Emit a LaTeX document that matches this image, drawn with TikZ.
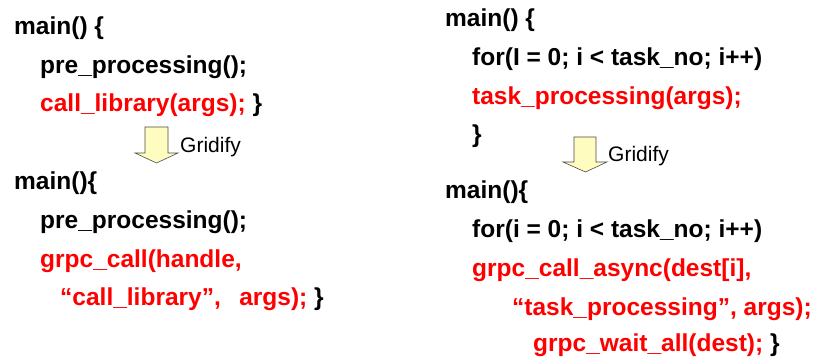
\documentclass[tikz,border=0pt]{standalone}
\usepackage{fontspec}
\setmainfont{Liberation Sans}
\begin{document}
\begin{tikzpicture}[x=1pt,y=1pt,
  code/.style={anchor=base west,inner sep=0pt,font=\fontsize{24.5}{29}\selectfont\bfseries},
  hot/.style={code,text=red},
  lbl/.style={anchor=base west,inner sep=0pt,font=\fontsize{21}{25}\selectfont},
  gridarrow/.style={draw=black!70,line width=0.6pt,fill=yellow!25,line join=miter}]
\useasboundingbox (0,0) rectangle (814,359);

% original sequential program
\node[code] (l1) at (14,324) {main() \{};
\node[code] (l2) at (40,285) {pre\_processing();};
\node[code] (l3) at (40,247) {\textcolor{red}{call\_library(args);} \}};
% gridified version
\node[code] (l4) at (14,169) {main()\{};
\node[code] (l5) at (40,130) {pre\_processing();};
\node[hot]  (l6) at (40,91)  {grpc\_call(handle,};
\node[code] (l7) at (60,53)  {\textcolor{red}{“call\_library”,\hspace{0.75em}args);} \}};

% task-parallel loop
\node[code] (r1) at (445,332) {main() \{};
\node[code] (r2) at (472,293) {for(I = 0; i < task\_no; i++)};
\node[hot]  (r3) at (472,254) {task\_processing(args);};
\node[code] (r4) at (472,216) {\}};
% asynchronous gridified version
\node[code] (r5) at (445,160) {main()\{};
\node[code] (r6) at (472,121) {for(i = 0; i < task\_no; i++)};
\node[hot]  (r7) at (472,82)  {grpc\_call\_async(dest[i],};
\node[hot]  (r8) at (512,44)  {“task\_processing”, args);};
\node[code] (r9) at (533,8)   {\textcolor{red}{grpc\_wait\_all(dest);} \}};

% Gridify arrows
\draw[gridarrow] (145,232) -- (168,232) -- (168,206) -- (178,206) -- (156.5,196)
  -- (135,206) -- (145,206) -- cycle;
\node[lbl] (g1) at (180,206) {Gridify};
\draw[gridarrow] (574,222) -- (596,222) -- (596,197) -- (607,197) -- (585.5,187)
  -- (563,197) -- (574,197) -- cycle;
\node[lbl] (g2) at (608,197) {Gridify};
\end{tikzpicture}
\end{document}
